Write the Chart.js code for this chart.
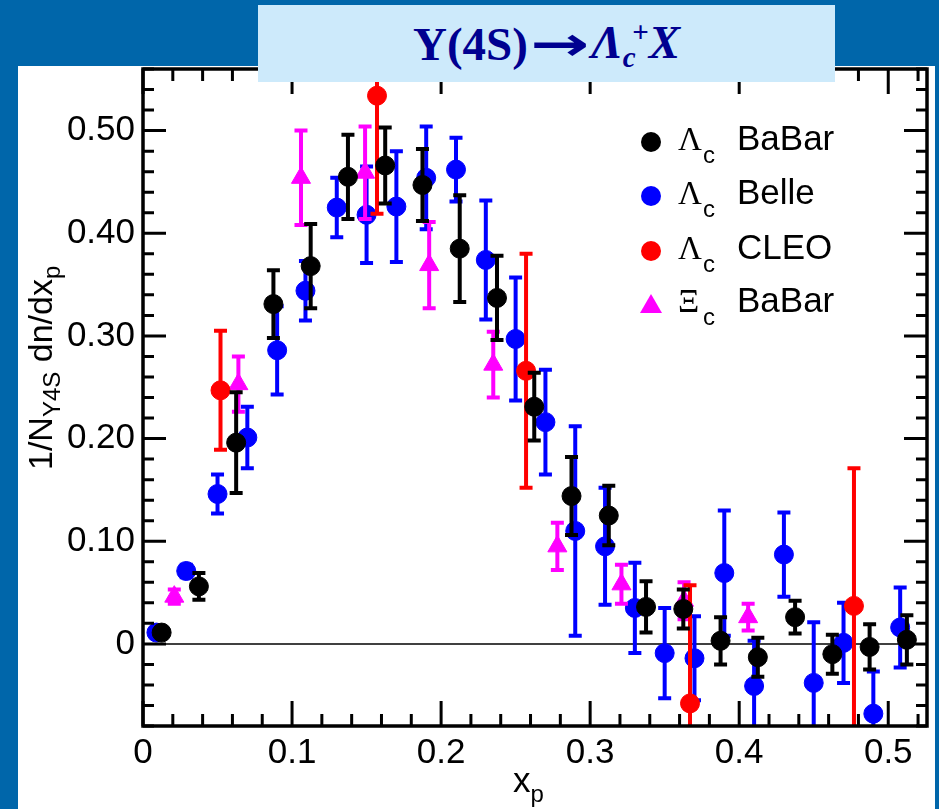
<!DOCTYPE html>
<html>
<head>
<meta charset="utf-8">
<script src="https://cdn.jsdelivr.net/npm/chart.js@4"></script>
<style>
  body { margin: 0; background: #0066aa; width: 939px; height: 809px; overflow: hidden; }
  #panel { position: absolute; left: 18px; top: 66px; width: 917px; height: 743px; background: #fff; }
  #chart { position: absolute; left: 0; top: 0; }
  #title {
    position: absolute; left: 258px; top: 5px; width: 577px; height: 77px;
    background: #cdeafb; color: #000090;
    font: bold 47px "Liberation Serif", "Times New Roman", serif;
    display: flex; align-items: center; padding-left: 155px; box-sizing: border-box;
    white-space: nowrap;
  }
  #title .arr { display: inline-block; font-family: "DejaVu Sans", sans-serif; font-weight: bold;
                transform: scaleX(1.5); margin: 0 12px 0 12px; }
  #title i sub, #title i sup { font-size: 0.62em; line-height: 1; }
  #title i sub { vertical-align: -0.3em; }
  #title i sup { vertical-align: 0.55em; margin-left: -0.12em; }
</style>
</head>
<body>
<div id="panel"></div>
<canvas id="chart" width="939" height="809"></canvas>
<div id="title">Υ(4S)<span class="arr">→</span><i>Λ<sub>c</sub><sup>+</sup>X</i></div>
<script>
// Λc BaBar (black)
const babarX = [0.0125, 0.0375, 0.0625, 0.0875, 0.1125, 0.1375, 0.1625, 0.1875, 0.2125, 0.2375, 0.2625,
                0.2875, 0.3125, 0.3375, 0.3625, 0.3875, 0.4125, 0.4375, 0.4625, 0.4875, 0.5125];
const babarY = [0.011, 0.056, 0.196, 0.331, 0.368, 0.455, 0.466, 0.447, 0.385, 0.337, 0.231,
                0.144, 0.125, 0.036, 0.034, 0.003, -0.013, 0.026, -0.010, -0.003, 0.004];
const babarErr = [0.004, 0.013, 0.049, 0.033, 0.041, 0.041, 0.037, 0.035, 0.052, 0.041, 0.033,
                  0.038, 0.029, 0.025, 0.019, 0.023, 0.019, 0.016, 0.019, 0.022, 0.024];

// Λc Belle (blue)
const belleX = [0.009, 0.029, 0.050, 0.070, 0.090, 0.109, 0.130, 0.150, 0.170, 0.190, 0.210, 0.230, 0.250,
                0.270, 0.290, 0.310, 0.330, 0.350, 0.370, 0.390, 0.410, 0.430, 0.450, 0.470, 0.490, 0.508];
const belleY = [0.011, 0.071, 0.146, 0.201, 0.286, 0.344, 0.425, 0.418, 0.426, 0.454, 0.462, 0.374, 0.297,
                0.216, 0.110, 0.095, 0.035, -0.009, -0.014, 0.069, -0.041, 0.087, -0.038, 0.001, -0.068, 0.016];
const belleErr = [0.003, 0.006, 0.019, 0.030, 0.043, 0.029, 0.029, 0.047, 0.054, 0.050, 0.031, 0.058, 0.060,
                  0.051, 0.102, 0.057, 0.044, 0.044, 0.041, 0.061, 0.044, 0.041, 0.059, 0.039, 0.041, 0.039];

// Λc CLEO (red)
const cleoX = [0.052, 0.157, 0.257, 0.367, 0.477];
const cleoY = [0.247, 0.534, 0.266, -0.058, 0.037];
const cleoErr = [0.058, 0.115, 0.114, 0.115, 0.134];

// Ξc BaBar (magenta)
const xiX = [0.021, 0.064, 0.106, 0.149, 0.192, 0.235, 0.278, 0.321, 0.363, 0.406];
const xiY = [0.046, 0.253, 0.454, 0.459, 0.369, 0.272, 0.095, 0.058, 0.042, 0.026];
const xiErr = [0.007, 0.027, 0.046, 0.045, 0.042, 0.032, 0.023, 0.019, 0.018, 0.013];

const xTicks = [0, 0.1, 0.2, 0.3, 0.4, 0.5];
const xTickLabels = ['0', '0.1', '0.2', '0.3', '0.4', '0.5'];
const yTicks = [0, 0.1, 0.2, 0.3, 0.4, 0.5];
const yTickLabels = ['0', '0.10', '0.20', '0.30', '0.40', '0.50'];

const legendItems = [
  { sym: 'Λ', label: 'BaBar', color: '#000000', style: 'circle' },
  { sym: 'Λ', label: 'Belle', color: '#0000ff', style: 'circle' },
  { sym: 'Λ', label: 'CLEO', color: '#ff0000', style: 'circle' },
  { sym: 'Ξ', label: 'BaBar', color: '#ff00ff', style: 'triangle' }
];

const SANS = "'Liberation Sans', Arial, Helvetica, sans-serif";
const SERIF = "'Liberation Serif', 'Times New Roman', serif";
Chart.defaults.font.family = SANS;
Chart.defaults.color = '#000';

function toPoints(xs, ys) {
  return xs.map((x, i) => ({ x: x, y: ys[i] }));
}

const errorBars = {
  id: 'errorBars',
  beforeDatasetDraw(chart, args) {
    const ds = chart.data.datasets[args.index];
    const ctx = chart.ctx, a = chart.chartArea;
    const xs = chart.scales.x, ys = chart.scales.y;
    ctx.save();
    ctx.beginPath();
    ctx.rect(a.left, a.top, a.right - a.left, a.bottom - a.top);
    ctx.clip();
    ctx.strokeStyle = ds.borderColor;
    ctx.lineWidth = 4;
    ds.data.forEach((p, i) => {
      const e = ds.errors[i];
      const px = xs.getPixelForValue(p.x);
      const hi = ys.getPixelForValue(p.y + e);
      const lo = ys.getPixelForValue(p.y - e);
      ctx.beginPath();
      ctx.moveTo(px, hi); ctx.lineTo(px, lo);
      ctx.moveTo(px - 6.5, hi); ctx.lineTo(px + 6.5, hi);
      ctx.moveTo(px - 6.5, lo); ctx.lineTo(px + 6.5, lo);
      ctx.stroke();
    });
    ctx.restore();
  }
};

const frame = {
  id: 'frame',
  beforeDatasetsDraw(chart) {
    const ctx = chart.ctx, a = chart.chartArea;
    const y0 = chart.scales.y.getPixelForValue(0);
    ctx.save();
    ctx.strokeStyle = '#000';
    ctx.lineWidth = 1.5;
    ctx.beginPath();
    ctx.moveTo(a.left, y0); ctx.lineTo(a.right, y0);
    ctx.stroke();
    ctx.restore();
  },
  afterDatasetsDraw(chart) {
    const ctx = chart.ctx, a = chart.chartArea;
    const xs = chart.scales.x, ys = chart.scales.y;
    ctx.save();
    ctx.strokeStyle = '#000';
    ctx.lineWidth = 3.5;
    ctx.strokeRect(a.left, a.top, a.right - a.left, a.bottom - a.top);
    ctx.lineWidth = 3;
    ctx.beginPath();
    for (let k = 0; k <= 26; k++) {
      const v = k * 0.02;
      const px = xs.getPixelForValue(v);
      const len = k % 5 === 0 ? 25 : 12;
      ctx.moveTo(px, a.bottom); ctx.lineTo(px, a.bottom - len);
      ctx.moveTo(px, a.top); ctx.lineTo(px, a.top + len);
    }
    for (let k = -4; k <= 28; k++) {
      const v = k * 0.02;
      const py = ys.getPixelForValue(v);
      const len = k % 5 === 0 ? 23 : 11;
      ctx.moveTo(a.left, py); ctx.lineTo(a.left + len, py);
      ctx.moveTo(a.right, py); ctx.lineTo(a.right - len, py);
    }
    ctx.stroke();
    ctx.restore();
  },
  afterDraw(chart) {
    const ctx = chart.ctx;
    ctx.save();
    ctx.fillStyle = '#000';
    ctx.textBaseline = 'alphabetic';
    ctx.textAlign = 'left';

    // y axis title, rotated
    ctx.save();
    ctx.translate(52, 470);
    ctx.rotate(-Math.PI / 2);
    let cx = 0;
    ctx.font = '34px ' + SANS;
    ctx.fillText('1/N', cx, 0); cx += ctx.measureText('1/N').width;
    ctx.font = '24px ' + SANS;
    ctx.fillText('Y4S', cx, 8); cx += ctx.measureText('Y4S').width;
    ctx.font = '34px ' + SANS;
    ctx.fillText(' dn/dx', cx, 0); cx += ctx.measureText(' dn/dx').width;
    ctx.font = '24px ' + SANS;
    ctx.fillText('p', cx, 8);
    ctx.restore();

    // x axis title
    ctx.font = '35px ' + SANS;
    ctx.fillText('x', 513, 792);
    const xw = ctx.measureText('x').width;
    ctx.font = '24px ' + SANS;
    ctx.fillText('p', 513 + xw, 802);

    // legend
    legendItems.forEach((it, i) => {
      const my = [142, 196, 251, 304][i];
      ctx.fillStyle = it.color;
      ctx.beginPath();
      if (it.style === 'circle') {
        ctx.arc(651, my, 10, 0, Math.PI * 2);
      } else {
        ctx.moveTo(651, my - 10); ctx.lineTo(662, my + 9); ctx.lineTo(640, my + 9); ctx.closePath();
      }
      ctx.fill();
      ctx.fillStyle = '#000';
      ctx.font = '33px ' + SERIF;
      ctx.fillText(it.sym, 678, my + 8);
      ctx.font = '24px ' + SANS;
      ctx.fillText('c', 703, my + 21);
      ctx.font = '35px ' + SANS;
      ctx.fillText(it.label, 737, my + 8);
    });
    ctx.restore();
  }
};

const ctx = document.getElementById('chart').getContext('2d');
new Chart(ctx, {
  type: 'scatter',
  data: {
    datasets: [
      { label: 'Λc BaBar', data: toPoints(babarX, babarY), errors: babarErr, order: 0,
        backgroundColor: '#000000', borderColor: '#000000', pointStyle: 'circle', pointRadius: 9.5 },
      { label: 'Λc Belle', data: toPoints(belleX, belleY), errors: belleErr, order: 3,
        backgroundColor: '#0000ff', borderColor: '#0000ff', pointStyle: 'circle', pointRadius: 9.5 },
      { label: 'Λc CLEO', data: toPoints(cleoX, cleoY), errors: cleoErr, order: 1,
        backgroundColor: '#ff0000', borderColor: '#ff0000', pointStyle: 'circle', pointRadius: 9.5 },
      { label: 'Ξc BaBar', data: toPoints(xiX, xiY), errors: xiErr, order: 2,
        backgroundColor: '#ff00ff', borderColor: '#ff00ff', pointStyle: 'triangle', pointRadius: 11 }
    ]
  },
  options: {
    responsive: false,
    devicePixelRatio: 1,
    animation: false,
    events: [],
    layout: { padding: { top: 69, right: 7, left: 0, bottom: 0 } },
    plugins: { legend: { display: false }, tooltip: { enabled: false } },
    scales: {
      x: {
        type: 'linear', min: 0, max: 0.526,
        grid: { display: false, drawTicks: false },
        border: { display: false },
        afterBuildTicks: s => { s.ticks = xTicks.map(v => ({ value: v })); },
        afterFit: s => { s.height = 83; },
        ticks: { font: { size: 35 }, padding: 6, maxRotation: 0, autoSkip: false,
                 callback: (v, i) => xTickLabels[i] }
      },
      y: {
        type: 'linear', min: -0.08, max: 0.56,
        grid: { display: false, drawTicks: false },
        border: { display: false },
        afterBuildTicks: s => { s.ticks = yTicks.map(v => ({ value: v })); },
        afterFit: s => { s.width = 143; },
        ticks: { font: { size: 35 }, padding: 8, autoSkip: false,
                 callback: (v, i) => yTickLabels[i] }
      }
    }
  },
  plugins: [errorBars, frame]
});
</script>
</body>
</html>
